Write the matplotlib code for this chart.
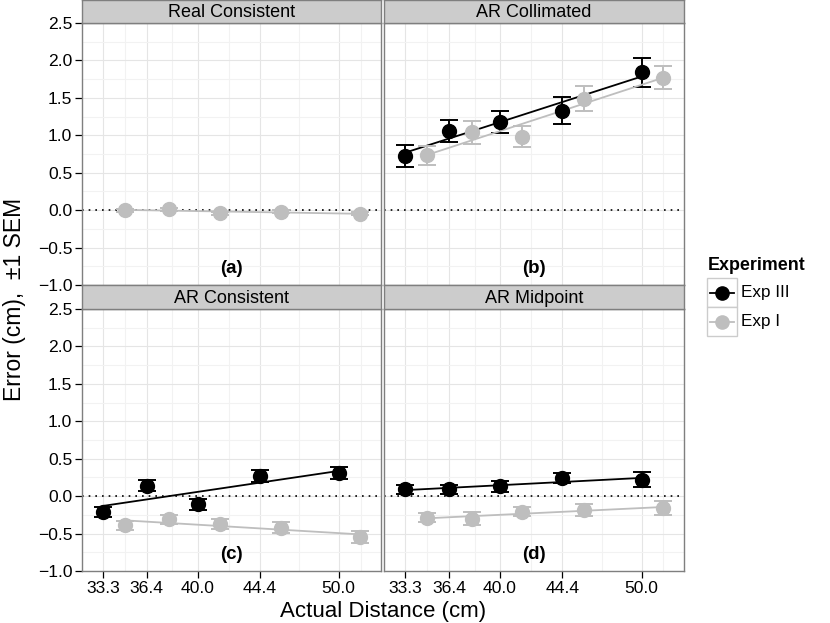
import numpy as np
import matplotlib
matplotlib.use("Agg")
import matplotlib.pyplot as plt
from matplotlib.lines import Line2D
from matplotlib.patches import Rectangle

plt.rcParams["font.family"] = ["Liberation Sans", "DejaVu Sans"]

# data
conditions = ["Real Consistent", "AR Collimated", "AR Consistent", "AR Midpoint"]
panel_tags = ["(a)", "(b)", "(c)", "(d)"]
distance_ticks = [33.3, 36.4, 40.0, 44.4, 50.0]

exp3_x = [33.3, 36.4, 40.0, 44.4, 50.0]
exp1_x = [34.85, 38.0, 41.55, 45.9, 51.5]

exp3_mean = {
    "AR Collimated": [0.72, 1.06, 1.18, 1.33, 1.84],
    "AR Consistent": [-0.21, 0.14, -0.11, 0.27, 0.31],
    "AR Midpoint": [0.09, 0.09, 0.13, 0.24, 0.22],
}
exp3_sem = {
    "AR Collimated": [0.15, 0.15, 0.15, 0.18, 0.19],
    "AR Consistent": [0.07, 0.07, 0.07, 0.075, 0.085],
    "AR Midpoint": [0.06, 0.06, 0.07, 0.07, 0.10],
}
exp1_mean = {
    "Real Consistent": [0.0, 0.01, -0.04, -0.02, -0.05],
    "AR Collimated": [0.73, 1.04, 0.98, 1.49, 1.77],
    "AR Consistent": [-0.39, -0.31, -0.37, -0.42, -0.55],
    "AR Midpoint": [-0.29, -0.30, -0.21, -0.18, -0.16],
}
exp1_sem = {
    "Real Consistent": [0.02, 0.02, 0.02, 0.02, 0.02],
    "AR Collimated": [0.13, 0.15, 0.14, 0.17, 0.15],
    "AR Consistent": [0.06, 0.06, 0.07, 0.07, 0.08],
    "AR Midpoint": [0.06, 0.09, 0.06, 0.08, 0.095],
}

col3 = "black"
col1 = "#BEBEBE"
border = "#7F7F7F"

fig = plt.figure(figsize=(8.3, 6.23), dpi=100)
W, H = 830.0, 623.0

# panel boxes in pixels: (left, top, right, bottom)
boxes = [(82, 23, 381, 285), (384, 23, 684, 285),
         (82, 309, 381, 571), (384, 309, 684, 571)]
strips = [(82, 0, 381, 23), (384, 0, 684, 23),
          (82, 285, 381, 309), (384, 285, 684, 309)]

xminor = [31.75, 34.85, 38.2, 42.2, 47.2, 51.55]
yticks = np.arange(-1.0, 2.51, 0.5)
yminor = np.arange(-0.75, 2.5, 0.5)


def draw_series(ax, x, y, e, color):
    x = np.array(x)
    y = np.array(y)
    ax.errorbar(x, y, yerr=e, fmt="none", ecolor=color, elinewidth=1.4,
                capsize=6.5, capthick=1.4, zorder=3)
    k, b = np.polyfit(x, y, 1)
    xx = np.array([x.min(), x.max()])
    ax.plot(xx, k * xx + b, color=color, lw=1.3, zorder=3)
    ax.plot(x, y, "o", color=color, ms=10, zorder=4)


for i, cond in enumerate(conditions):
    l, t, r, btm = boxes[i]
    ax = fig.add_axes([l / W, 1 - btm / H, (r - l) / W, (btm - t) / H])
    ax.set_xlim(31.8, 53.0)
    ax.set_ylim(-1.0, 2.5)
    for v in xminor:
        ax.axvline(v, color="#F2F2F2", lw=0.8, zorder=0)
    for v in distance_ticks:
        ax.axvline(v, color="#E5E5E5", lw=0.8, zorder=0)
    for v in yminor:
        ax.axhline(v, color="#F2F2F2", lw=0.8, zorder=0)
    for v in yticks:
        ax.axhline(v, color="#E5E5E5", lw=0.8, zorder=0)
    ax.axhline(0, color="black", lw=1.2, ls=(0, (1, 3)), zorder=1)

    if cond in exp3_mean:
        draw_series(ax, exp3_x, exp3_mean[cond], exp3_sem[cond], col3)
    draw_series(ax, exp1_x, exp1_mean[cond], exp1_sem[cond], col1)

    ax.text(42.4, -0.78, panel_tags[i], ha="center", va="center",
            fontsize=13.5, fontweight="bold")

    ax.set_xticks(distance_ticks)
    ax.set_yticks(yticks)
    ax.tick_params(colors="black", length=5, width=0.9, labelsize=12.6,
                   pad=2)
    if i % 2 == 0:
        ax.set_yticklabels([f"{v:.1f}".replace("-", "\u2212") for v in yticks])
    else:
        ax.tick_params(axis="y", left=False, labelleft=False)
    if i >= 2:
        ax.set_xticklabels([f"{v:.1f}" for v in distance_ticks])
    else:
        ax.tick_params(axis="x", bottom=False, labelbottom=False)
    for s in ax.spines.values():
        s.set_color(border)
        s.set_linewidth(1.0)

    # facet strip
    sl, st, sr, sb = strips[i]
    sax = fig.add_axes([sl / W, 1 - sb / H, (sr - sl) / W, (sb - st) / H])
    sax.set_facecolor("#CCCCCC")
    sax.set_xticks([])
    sax.set_yticks([])
    for s in sax.spines.values():
        s.set_color(border)
        s.set_linewidth(1.0)
    sax.text(0.5, 0.45, cond, ha="center", va="center", fontsize=13,
             transform=sax.transAxes)

fig.text(383 / W, 1 - 611 / H, "Actual Distance (cm)", ha="center",
         va="center", fontsize=16)
fig.text(15 / W, 1 - 299 / H, "Error (cm),  \u00b11 SEM", ha="center",
         va="center", rotation=90, fontsize=16.5)

# legend
fig.text(708 / W, 1 - 265 / H, "Experiment", ha="left", va="center",
         fontsize=12.9, fontweight="bold")
labels = ["Exp III", "Exp I"]
colors = [col3, col1]
for j in range(2):
    top = 278 + j * 29
    fig.patches.append(Rectangle((707 / W, 1 - (top + 29) / H), 30 / W, 29 / H,
                                 transform=fig.transFigure, facecolor="white",
                                 edgecolor="#CCCCCC", lw=1.0))
    yc = 1 - (top + 14.5) / H
    fig.lines.append(Line2D([710 / W, 734 / W], [yc, yc], color=colors[j],
                            lw=1.3, transform=fig.transFigure))
    fig.lines.append(Line2D([722 / W], [yc], marker="o", ms=9.5,
                            color=colors[j], transform=fig.transFigure))
    fig.text(741 / W, yc, labels[j], ha="left", va="center", fontsize=12.3)

fig.savefig("out.png", dpi=100)
